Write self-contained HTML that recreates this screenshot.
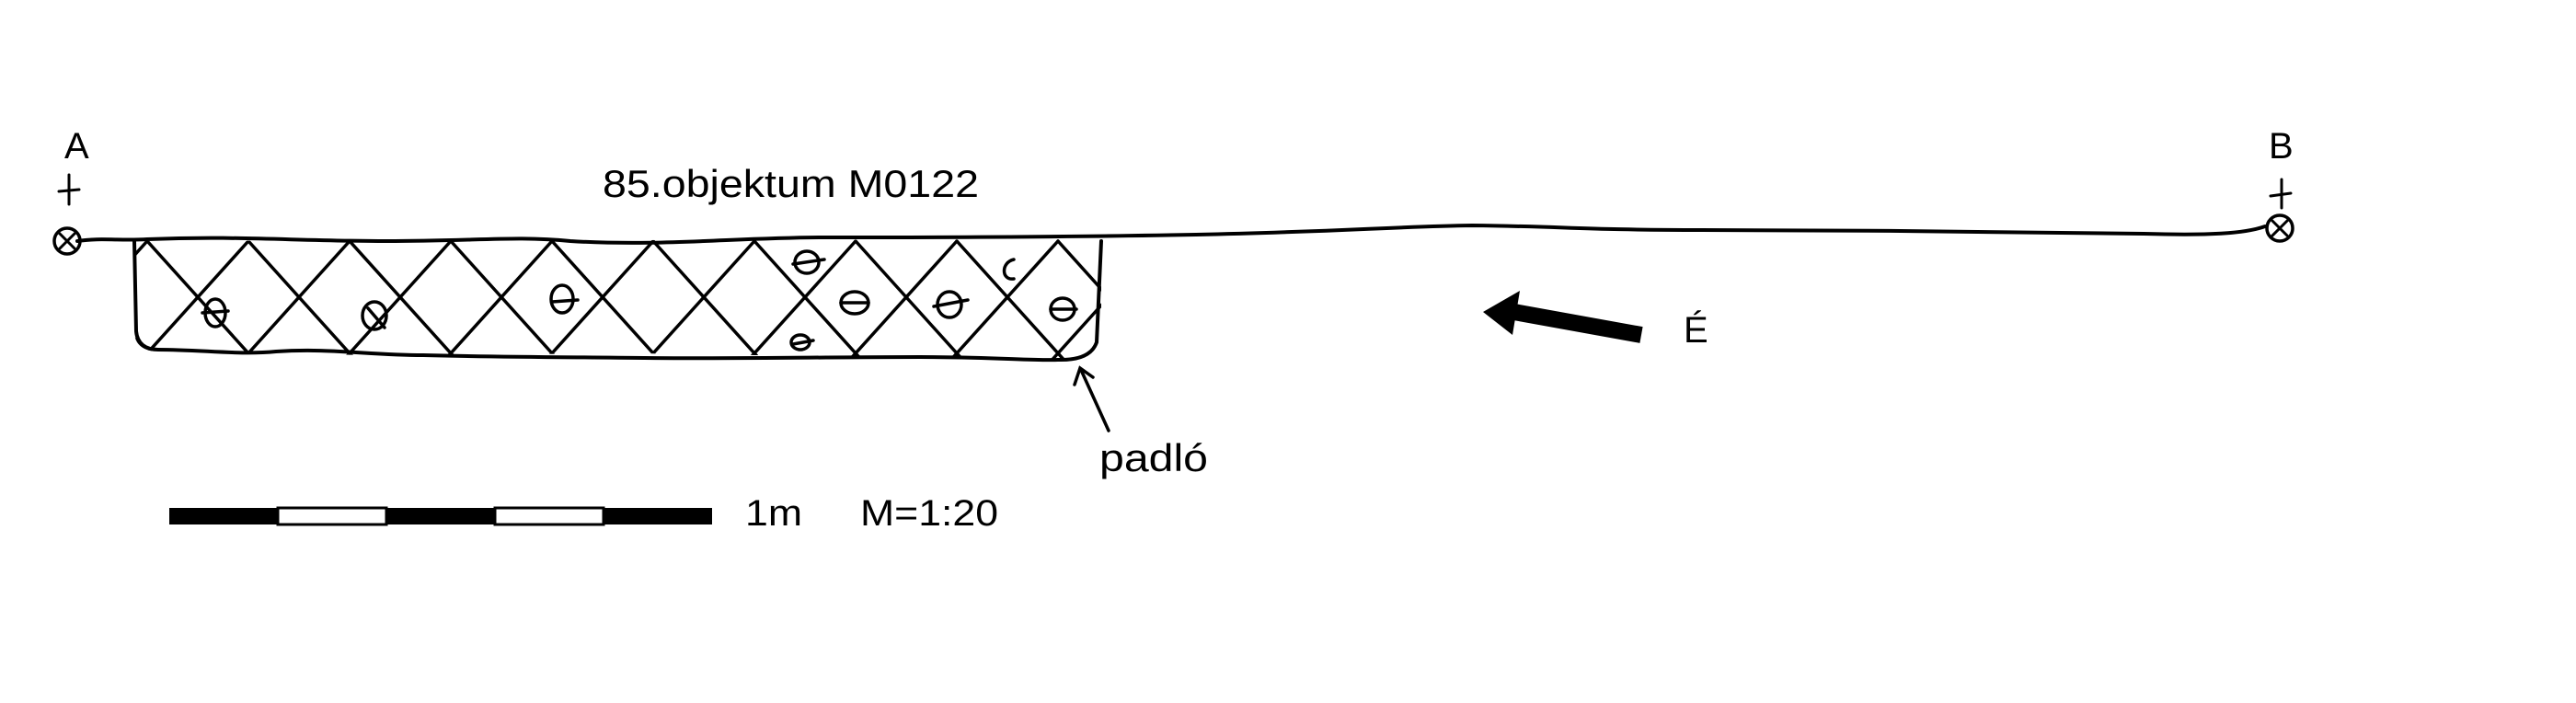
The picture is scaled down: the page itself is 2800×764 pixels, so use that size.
<!DOCTYPE html>
<html><head><meta charset="utf-8"><style>
html,body{margin:0;padding:0;background:#fff;}
svg{display:block;}
text{font-family:"Liberation Sans",sans-serif;fill:#000;}
</style></head><body>
<svg width="2800" height="764" viewBox="0 0 2800 764" xmlns="http://www.w3.org/2000/svg">
<defs>
<clipPath id="c"><path d="M146,262 L1197,260 L1197,380 Q1195,392 1170,390 L1000,389 L700,384 L400,386 L170,382 Q146,380 146,360 Z"/></clipPath>
</defs>
<g fill="none" stroke="#000" stroke-linecap="round">
<path d="M84,262 C110,258 130,262 160,260 C260,256 320,262 420,262 C520,262 560,256 620,262 C720,268 800,258 900,258 C1000,258 1150,258 1300,255 C1450,252 1520,246 1600,245 C1700,246 1720,250 1850,250 C2000,250 2200,252 2330,254 C2400,256 2440,254 2462,246" stroke-width="4"/>
<path d="M146,262 L148,360 Q150,380 172,380 C220,380 260,386 300,382 C360,378 400,386 460,386 C540,388 600,388 700,389 C800,390 900,388 1000,388 C1080,388 1120,392 1150,391 Q1185,392 1192,372 L1197,262" stroke-width="4"/>
<g clip-path="url(#c)" stroke-width="3.5">
<path d="M50,262 L170,395 M160,262 L280,395 M270,262 L390,395 M380,262 L500,395 M490,262 L610,395 M600,262 L720,395 M710,262 L830,395 M820,262 L940,395 M930,262 L1050,395 M1040,262 L1160,395 M1150,262 L1270,395"/>
<path d="M160,262 L40,395 M270,262 L150,395 M380,262 L260,395 M490,262 L370,395 M600,262 L480,395 M710,262 L590,395 M820,262 L700,395 M930,262 L810,395 M1040,262 L920,395 M1150,262 L1030,395 M1260,262 L1140,395"/>
</g>
<g stroke-width="3.5">
<ellipse cx="234" cy="340" rx="11" ry="15"/><path d="M220,340 L248,338"/>
<ellipse cx="407" cy="343" rx="13" ry="15"/><path d="M400,335 L418,356"/>
<ellipse cx="611" cy="325" rx="12" ry="15"/><path d="M600,328 L628,326"/>
<ellipse cx="877" cy="285" rx="13" ry="12"/><path d="M862,287 L896,282"/>
<ellipse cx="929" cy="329" rx="15" ry="12"/><path d="M914,329 L944,329"/>
<ellipse cx="870" cy="372" rx="10" ry="8"/><path d="M862,374 L884,370"/>
<ellipse cx="1032" cy="331" rx="13" ry="14"/><path d="M1015,333 L1052,326"/>
<path d="M1102,282 C1088,285 1088,305 1102,303"/>
<ellipse cx="1155" cy="336" rx="13" ry="12"/><path d="M1142,336 L1170,336"/>
</g>
<circle cx="73" cy="262" r="14" stroke-width="3.5"/>
<path d="M64,253 L82,271 M82,253 L64,271" stroke-width="3"/>
<path d="M75,190 L75,222 M64,208 L86,206" stroke-width="3"/>
<circle cx="2478" cy="248" r="14" stroke-width="3.5"/>
<path d="M2468,258 L2488,238 M2470,240 L2486,256" stroke-width="3"/>
<path d="M2480,195 L2480,226 M2468,213 L2490,210" stroke-width="3"/>
<path d="M1205,468 L1175,402" stroke-width="3.5"/>
<path d="M1168,418 L1174,400 L1188,410" stroke-width="3.5"/>
</g>
<path d="M1640,338 L1784,364" stroke="#000" stroke-width="18"/>
<polygon points="1612,339 1652,316 1644,364" fill="#000"/>
<rect x="184" y="552" width="118" height="18" fill="#000"/>
<rect x="302" y="552" width="118" height="18" fill="#fff" stroke="#000" stroke-width="3"/>
<rect x="420" y="552" width="118" height="18" fill="#000"/>
<rect x="538" y="552" width="118" height="18" fill="#fff" stroke="#000" stroke-width="3"/>
<rect x="656" y="552" width="118" height="18" fill="#000"/>
<text x="655" y="214" font-size="42" textLength="409" lengthAdjust="spacingAndGlyphs">85.objektum M0122</text>
<text x="70" y="172" font-size="40">A</text>
<text x="2466" y="172" font-size="40">B</text>
<text x="1830" y="372" font-size="40">É</text>
<text x="1195" y="512" font-size="42" textLength="118" lengthAdjust="spacingAndGlyphs">padló</text>
<text x="810" y="571" font-size="40" textLength="62" lengthAdjust="spacingAndGlyphs">1m</text>
<text x="935" y="571" font-size="40" textLength="150" lengthAdjust="spacingAndGlyphs">M=1:20</text>
</svg>
</body></html>
